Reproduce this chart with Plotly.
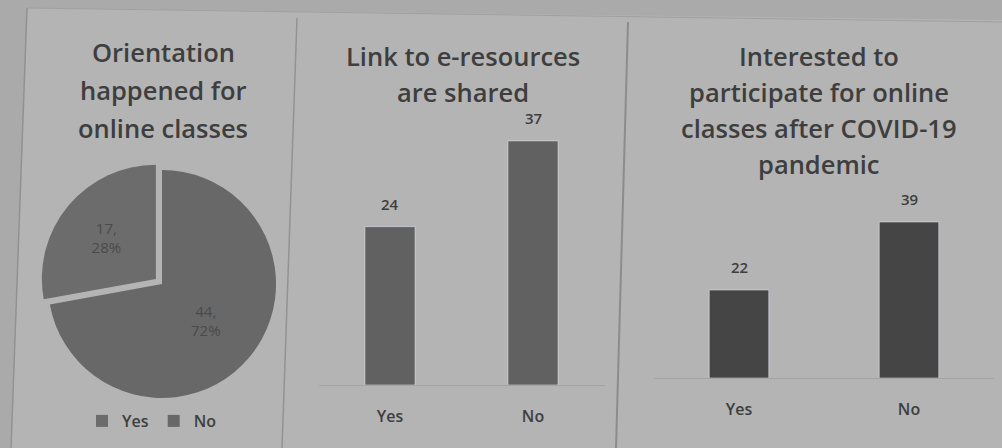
import plotly.graph_objects as go

# ---- data ----
pie_labels = ["Yes", "No"]
pie_values = [17, 44]

bar2_categories = ["Yes", "No"]
bar2_values = [24, 37]

bar3_categories = ["Yes", "No"]
bar3_values = [22, 39]

title1_lines = ["Orientation", "happened for", "online classes"]
title2_lines = ["Link to e-resources", "are shared"]
title3_lines = ["Interested to", "participate for online", "classes after COVID-19", "pandemic"]

W, H = 1002, 448
FONT = "Open Sans"
TXT = "#3e3e3e"


def px(x):
    return x / W


def py(y):
    return 1 - y / H


fig = go.Figure()

# first slice ("Yes") placed so it ends at 12 o'clock (upper-left), like the original
first_share = 360.0 * pie_values[0] / sum(pie_values)

fig.add_trace(go.Pie(
    labels=pie_labels, values=pie_values, sort=False, direction="clockwise",
    rotation=-first_share, pull=[0.07, 0],
    marker=dict(colors=["#6c6c6c", "#686868"], line=dict(width=0)),
    texttemplate="%{value},<br>%{percent:.0%}", textposition="inside",
    insidetextorientation="horizontal",
    textfont=dict(family=FONT, size=15, color="#4a4a4a"),
    domain=dict(x=[px(40), px(284)], y=[py(406), py(162)]),
    hoverinfo="label+value+percent", showlegend=True,
))

fig.add_trace(go.Bar(
    x=bar2_categories, y=bar2_values, marker=dict(color="#616161"),
    xaxis="x", yaxis="y", showlegend=False,
))
fig.add_trace(go.Bar(
    x=bar3_categories, y=bar3_values, marker=dict(color="#454545"),
    xaxis="x2", yaxis="y2", showlegend=False,
))

annotations = []
for cats, vals, xa, ya in [(bar2_categories, bar2_values, "x", "y"),
                           (bar3_categories, bar3_values, "x2", "y2")]:
    for c, v in zip(cats, vals):
        annotations.append(dict(
            x=c, y=v, xref=xa, yref=ya, text=str(v), showarrow=False,
            yanchor="bottom", yshift=11,
            font=dict(family=FONT, size=15, color=TXT, weight=600),
        ))


def add_title(lines, cx, ys, size=25.5):
    for t, y in zip(lines, ys):
        annotations.append(dict(
            x=px(cx), y=py(y), xref="paper", yref="paper", text=t, showarrow=False,
            xanchor="center", yanchor="middle",
            font=dict(family=FONT, size=size, color=TXT, weight=600),
        ))


add_title(title1_lines, 163, [52, 90, 128])
add_title(title2_lines, 463, [56, 92])
add_title(title3_lines, 819, [56, 92, 128, 164])

shapes = [
    dict(type="path", xref="paper", yref="paper",
         path=f"M {px(27)},{py(8)} L {px(1002)},{py(20)} L {px(1002)},{py(448)} L {px(10)},{py(448)} Z",
         fillcolor="#b4b4b4", line=dict(width=0), layer="below"),
    dict(type="line", xref="paper", yref="paper", x0=px(27), y0=py(8), x1=px(11), y1=py(448),
         line=dict(color="#919191", width=1.5), layer="below"),
    dict(type="line", xref="paper", yref="paper", x0=px(297), y0=py(18), x1=px(282), y1=py(448),
         line=dict(color="#939393", width=1.5), layer="below"),
    dict(type="line", xref="paper", yref="paper", x0=px(628), y0=py(22), x1=px(616), y1=py(448),
         line=dict(color="#8c8c8c", width=2), layer="below"),
    dict(type="line", xref="paper", yref="paper", x0=px(27), y0=py(8), x1=px(1002), y1=py(22),
         line=dict(color="#a0a0a0", width=1), layer="below"),
]

axis_common = dict(showgrid=False, zeroline=False, showticklabels=True, ticks="",
                   tickfont=dict(family=FONT, size=16, color=TXT, weight=600))

fig.update_layout(
    width=W, height=H,
    margin=dict(l=0, r=0, t=0, b=0),
    paper_bgcolor="#aaaaaa", plot_bgcolor="rgba(0,0,0,0)",
    bargap=0.65,
    xaxis=dict(domain=[px(318.5), px(604.5)], anchor="y", showline=True,
               linecolor="#a4a4a4", linewidth=1, ticklabelstandoff=17, **axis_common),
    yaxis=dict(domain=[py(385), py(100)], range=[0, 43.2], anchor="x", visible=False),
    xaxis2=dict(domain=[px(654), px(994)], anchor="y2", showline=True,
                linecolor="#a4a4a4", linewidth=1, ticklabelstandoff=17, **axis_common),
    yaxis2=dict(domain=[py(378), py(200)], range=[0, 44.5], anchor="x2", visible=False),
    legend=dict(orientation="h", x=px(82), y=py(404), xanchor="left", yanchor="top",
                bgcolor="rgba(0,0,0,0)", font=dict(family=FONT, size=16, color=TXT, weight=600),
                itemwidth=30, tracegroupgap=0),
    annotations=annotations,
    shapes=shapes,
)

fig.write_html("out.html")
